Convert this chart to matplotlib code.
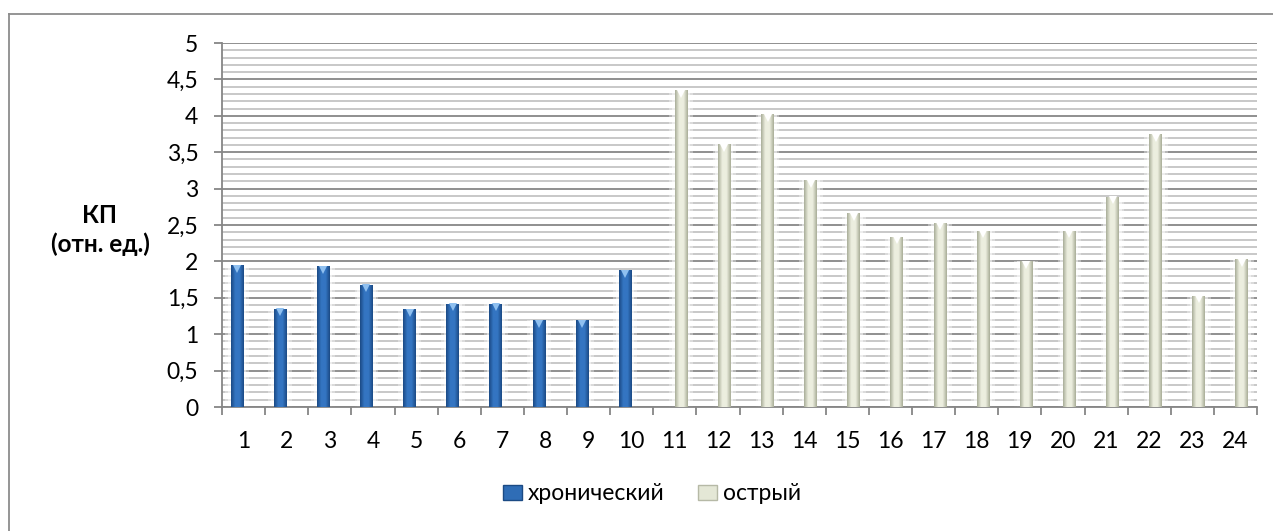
import numpy as np
import matplotlib
matplotlib.use("Agg")
import matplotlib.pyplot as plt
from matplotlib.lines import Line2D
from matplotlib.patches import Patch
from matplotlib.ticker import MultipleLocator, FixedLocator, FuncFormatter

plt.rcParams['font.family'] = ['Lato', 'DejaVu Sans']

# Значения КП по пациентам
categories = list(range(1, 25))
chronic = [1.95, 1.35, 1.93, 1.68, 1.34, 1.42, 1.42, 1.19, 1.19, 1.88] + [0] * 14
acute = [0] * 10 + [4.35, 3.61, 4.02, 3.12, 2.66, 2.34, 2.53, 2.42, 2.00, 2.42,
                    2.89, 3.75, 1.53, 2.03]
series_names = ["хронический", "острый"]

W, H = 1273, 531
fig = plt.figure(figsize=(W / 100, H / 100), dpi=100)
ax = fig.add_axes([222 / W, 1 - 407 / H, (1257 - 222) / W, (407 - 43) / H])

x = np.array(categories, dtype=float)
bw = 0.3

def shaded_bars(xpos, vals, edge, mid, tip):
    cmap = matplotlib.colors.LinearSegmentedColormap.from_list(
        "cyl", [edge, mid, mid, edge])
    grad = np.linspace(0, 1, 64).reshape(1, -1)
    for xi, v in zip(xpos, vals):
        if v <= 0:
            continue
        # светлый ореол вокруг столбика
        ax.bar(xi, v, width=0.55, color="white", alpha=0.35, zorder=2, linewidth=0)
        ax.bar(xi, v, width=0.42, color="white", alpha=0.5, zorder=2, linewidth=0)
        b = ax.bar(xi, v, width=bw, color=mid, zorder=3, linewidth=0)[0]
        im = ax.imshow(grad, cmap=cmap, aspect="auto", zorder=4,
                       extent=[xi - bw / 2, xi + bw / 2, 0, v])
        im.set_clip_path(b)
        ax.plot(xi, v - 0.05, marker="v", markersize=6, color=tip,
                markeredgewidth=0, zorder=5)

shaded_bars(x - bw / 2, chronic, "#1b4a84", "#3475c2", "#8fc0f0")
shaded_bars(x + bw / 2, acute, "#a9ad98", "#eceedf", "#ffffff")

ax.set_xlim(0.5, 24.5)
ax.set_ylim(0, 5)

# сетка
ax.yaxis.set_major_locator(MultipleLocator(0.5))
ax.yaxis.set_minor_locator(MultipleLocator(0.1))
ax.yaxis.set_major_formatter(FuncFormatter(
    lambda v, p: ("%g" % v).replace(".", ",")))
ax.grid(True, which="major", axis="y", color="#878787", linewidth=1.3, zorder=0)
ax.grid(True, which="minor", axis="y", color="#c4c4c4", linewidth=1.3, zorder=0)
ax.set_axisbelow(True)

ax.xaxis.set_major_locator(FixedLocator(np.arange(0.5, 25, 1)))
ax.xaxis.set_major_formatter(FuncFormatter(lambda v, p: ""))
ax.xaxis.set_minor_locator(FixedLocator(x))
ax.xaxis.set_minor_formatter(FuncFormatter(lambda v, p: "%d" % v))
ax.tick_params(axis="x", which="major", length=6, width=1.3, color="#868686")
ax.tick_params(axis="x", which="minor", length=0, pad=17, labelsize=16.5)
ax.tick_params(axis="y", which="major", length=6, width=1.3, color="#868686",
               pad=11, labelsize=16.5)
ax.tick_params(axis="y", which="minor", length=0)

for s in ["top", "right"]:
    ax.spines[s].set_visible(False)
for s in ["left", "bottom"]:
    ax.spines[s].set_color("#868686")
    ax.spines[s].set_linewidth(1.3)

fig.text(100 / W, 1 - 230 / H, "КП\n(отн. ед.)", ha="center", va="center",
         fontsize=17.5, fontweight="bold", linespacing=1.25)

handles = [
    Patch(facecolor="#2f6db6", edgecolor="#1b4a84", linewidth=1),
    Patch(facecolor="#e4e7d6", edgecolor="#b6b9a6", linewidth=1),
]
fig.legend(handles, series_names, loc="center", bbox_to_anchor=(652 / W, 1 - 494 / H),
           ncol=2, frameon=False, fontsize=16.5, handletextpad=0.25,
           columnspacing=1.5, handlelength=0.8, handleheight=0.6)

# рамка области диаграммы
fig.add_artist(Line2D([9 / W, 9 / W], [0, 1 - 14 / H], transform=fig.transFigure,
                      color="#8c8c8c", linewidth=1.3))
fig.add_artist(Line2D([9 / W, 1], [1 - 14 / H, 1 - 14 / H], transform=fig.transFigure,
                      color="#8c8c8c", linewidth=1.3))

fig.savefig("out.png", dpi=100)
